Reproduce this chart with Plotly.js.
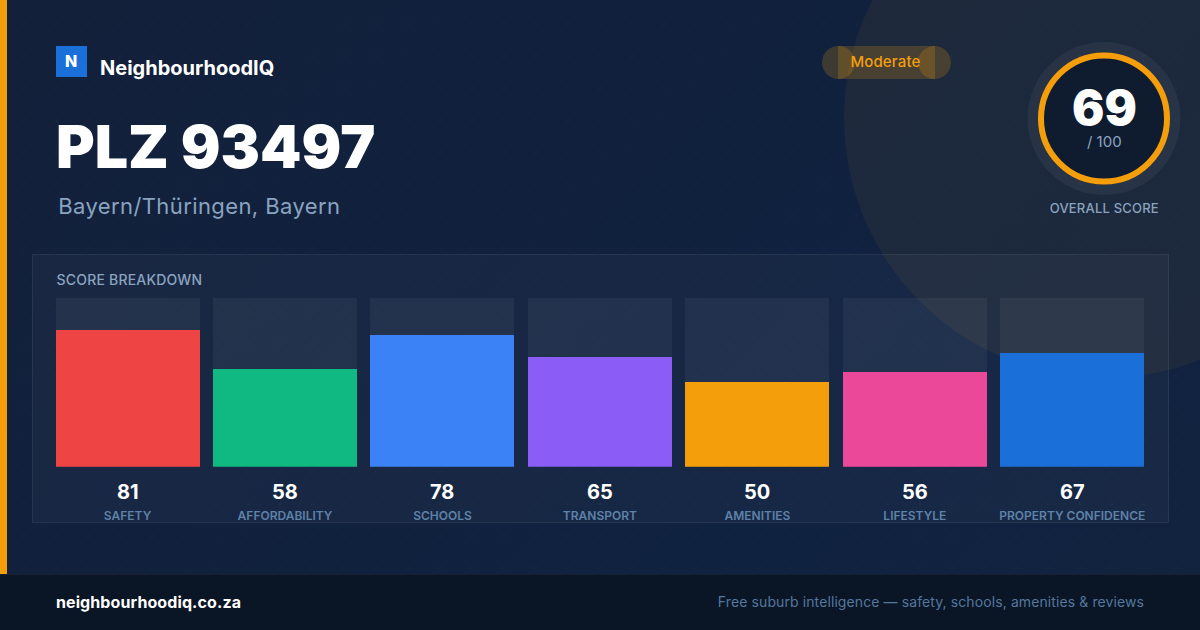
<!DOCTYPE html>
<html>
<head>
<meta charset="utf-8">
<script src="https://cdn.plot.ly/plotly-3.0.1.min.js"></script>
<style>
html, body { margin: 0; padding: 0; width: 1200px; height: 630px; overflow: hidden; }
body {
  background-color: #12213a;
  background-image:
    radial-gradient(circle at 24px 24px, rgba(255,255,255,0.035) 1px, transparent 1.5px),
    linear-gradient(135deg, #13203a 0%, #0f2240 70%, #12233f 100%);
  background-size: 32px 32px, 100% 100%;
}
#tester { width: 1200px; height: 630px; }
#tester .bars path { shape-rendering: crispEdges; }
#tester .annotation[data-index="3"] text { letter-spacing: 0.4px; }
#tester .annotation[data-index="4"] text { letter-spacing: 0.15px; }
#tester .annotation[data-index="7"] text { letter-spacing: 0.2px; }
#tester .annotation[data-index="8"] text { letter-spacing: 0.2px; }
#tester .annotation[data-index="9"] text { letter-spacing: 0.1px; }
#tester .annotation[data-index="10"] text { letter-spacing: 0.1px; }
</style>
</head>
<body>
<div id="tester"></div>
<script>
var categories = ['SAFETY', 'AFFORDABILITY', 'SCHOOLS', 'TRANSPORT', 'AMENITIES', 'LIFESTYLE', 'PROPERTY CONFIDENCE'];
var scores = [81, 58, 78, 65, 50, 56, 67];
var trackValues = [100, 100, 100, 100, 100, 100, 100];
var barColors = ['#ef4444', '#10b981', '#3b82f6', '#8b5cf6', '#f59e0b', '#ec4899', '#1a6fd8'];

var W = 1200, H = 630;
var FONT = 'Inter, sans-serif';
var ORANGE = '#f59e0b';
var MUTED = '#8aa4c0';

function px(x) { return x / W; }
function py(y) { return 1 - y / H; }

function box(x0, y0, x1, y1, fill, line, layer) {
  return {
    type: 'rect', xref: 'paper', yref: 'paper', layer: layer || 'below',
    x0: px(x0), x1: px(x1), y0: py(y0), y1: py(y1),
    fillcolor: fill, line: line || { width: 0 }
  };
}

function ring(cx, cy, r, fill, line) {
  return {
    type: 'circle', xref: 'paper', yref: 'paper', layer: 'below',
    x0: px(cx - r), x1: px(cx + r), y0: py(cy + r), y1: py(cy - r),
    fillcolor: fill, line: line || { width: 0 }
  };
}

function label(x, y, text, size, color, weight, anchor) {
  return {
    xref: 'paper', yref: 'paper', x: px(x), y: py(y), text: text,
    showarrow: false, xanchor: anchor || 'left', yanchor: 'middle', borderpad: 0,
    font: { family: FONT, size: size, color: color, weight: weight || 400 }
  };
}

var pillFill = 'rgba(245,158,11,0.2)';

var shapes = [
  ring(1104, 118, 260, 'rgba(245,158,11,0.06)'),
  box(0, 0, 7, 574, ORANGE),
  box(0, 574, 1200, 630, '#0a1525'),
  box(0, 574, 1200, 575, 'rgba(255,255,255,0.05)'),
  box(56, 46, 87, 77, '#1a6fd8'),
  box(838, 46, 935, 79, pillFill),
  ring(838.5, 62.5, 16.5, pillFill),
  ring(934.5, 62.5, 16.5, pillFill),
  ring(1104, 118.5, 76.5, 'rgba(255,255,255,0.05)'),
  ring(1104, 118.5, 63, '#0f1b2e', { color: ORANGE, width: 6 }),
  box(32.5, 254.5, 1168.5, 522.5, 'rgba(255,255,255,0.03)', { color: 'rgba(255,255,255,0.08)', width: 1 })
];

var annotations = [
  label(71, 61, 'N', 16, '#ffffff', 800, 'center'),
  label(99, 68, 'NeighbourhoodIQ', 20, '#ffffff', 700),
  label(55, 146.5, 'PLZ 93497', 59, '#ffffff', 900),
  label(61.5, 206, 'Bayern/Thüringen, Bayern', 22, MUTED, 400),
  label(885.7, 62, 'Moderate', 15, ORANGE, 500, 'center'),
  label(1104, 107.5, '69', 48, '#ffffff', 900, 'center'),
  label(1104.5, 141, '/ 100', 15, MUTED, 400, 'center'),
  label(1104.5, 208, 'OVERALL SCORE', 13, MUTED, 500, 'center'),
  label(56.5, 279.5, 'SCORE BREAKDOWN', 14, MUTED, 500),
  label(56, 602, 'neighbourhoodiq.co.za', 16, '#ffffff', 700),
  label(1142, 601, 'Free suburb intelligence — safety, schools, amenities &amp; reviews', 14, '#54789f', 400, 'right')
];

scores.forEach(function(score, i) {
  annotations.push({
    xref: 'x', yref: 'paper', x: i, y: py(491.5), text: String(score),
    showarrow: false, xanchor: 'center', yanchor: 'middle', borderpad: 0,
    font: { family: FONT, size: 20, color: '#ffffff', weight: 700 }
  });
});

var data = [
  {
    type: 'bar', x: categories, y: trackValues, hoverinfo: 'skip',
    marker: { color: 'rgba(255,255,255,0.05)', line: { width: 0 } }
  },
  {
    type: 'bar', x: categories, y: scores, hoverinfo: 'skip',
    marker: { color: barColors, line: { width: 0 } }
  }
];

var layout = {
  width: W, height: H,
  margin: { l: 0, r: 0, t: 0, b: 0, pad: 0 },
  paper_bgcolor: 'rgba(0,0,0,0)',
  plot_bgcolor: 'rgba(0,0,0,0)',
  showlegend: false,
  barmode: 'overlay',
  bargap: 0.0854,
  xaxis: {
    domain: [px(48.825), px(1151)],
    type: 'category',
    range: [-0.5, 6.5],
    showgrid: false, zeroline: false, showline: false,
    ticks: 'outside', ticklen: 38, tickcolor: 'rgba(0,0,0,0)', tickangle: 0,
    tickfont: { family: FONT, size: 12, color: '#5f82a8', weight: 600 }
  },
  yaxis: {
    domain: [py(466.7), py(297.7)],
    range: [0, 100],
    visible: false
  },
  shapes: shapes,
  annotations: annotations
};

Plotly.newPlot('tester', data, layout, { displayModeBar: false, staticPlot: true });
</script>
</body>
</html>
